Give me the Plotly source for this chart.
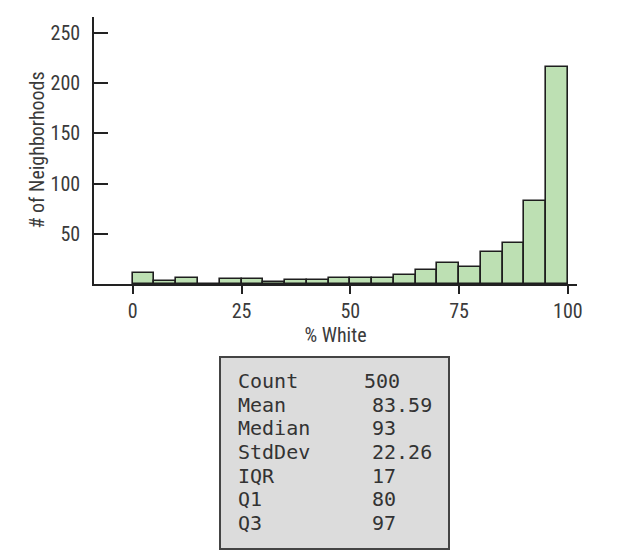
import plotly.graph_objects as go

# ---- data ----
bin_left = [0, 5, 10, 15, 20, 25, 30, 35, 40, 45, 50, 55, 60, 65, 70, 75, 80, 85, 90, 95]
counts = [11, 3, 6, 0, 5, 5, 2, 4, 4, 6, 6, 6, 9, 14, 21, 17, 32, 41, 83, 216]
bin_width = 5
x_ticks = [0, 25, 50, 75, 100]
y_ticks = [50, 100, 150, 200, 250]
stat_labels = ["Count", "Mean", "Median", "StdDev", "IQR", "Q1", "Q3"]
stat_values = ["500", "83.59", "93", "22.26", "17", "80", "97"]

W, H = 627, 555
L, R, T, B = 94, 50, 17, 271
pw, ph = W - L - R, H - T - B

def px_x(p):
    return (p - L) / pw

def px_y(p):
    return (H - B - p) / ph

narrow = "Liberation Sans Narrow, Arial Narrow, Roboto Condensed, Liberation Sans, sans-serif"
mono = "DejaVu Sans Mono, monospace"
txt = "#3a3a3a"

fig = go.Figure()
fig.add_trace(go.Bar(
    x=[b + bin_width / 2 for b in bin_left],
    y=counts,
    width=[bin_width] * len(bin_left),
    marker=dict(color="#bde0b3", line=dict(color="#1e1e1e", width=1.6)),
    hoverinfo="x+y",
))

fig.update_layout(
    width=W, height=H,
    margin=dict(l=L, r=R, t=T, b=B),
    plot_bgcolor="white", paper_bgcolor="white",
    showlegend=False,
    bargap=0,
    font=dict(family=narrow, color=txt, size=20),
    xaxis=dict(
        range=[-8.9, 102.1], tickvals=x_ticks, ticktext=[str(v) for v in x_ticks],
        showgrid=False, zeroline=False, showline=True, linecolor="#222222", linewidth=1.6,
        ticks="outside", ticklen=8, tickwidth=1.6, tickcolor="#222222",
        tickfont=dict(family=narrow, size=20, color=txt),
        title=dict(text="% White", font=dict(family=narrow, size=20, color=txt), standoff=2),
    ),
    yaxis=dict(
        range=[0, 266], tickvals=y_ticks, ticktext=[str(v) for v in y_ticks],
        showgrid=False, zeroline=False, showline=True, linecolor="#222222", linewidth=1.6,
        ticks="inside", ticklen=14, tickwidth=1.6, tickcolor="#222222",
        ticklabelstandoff=8,
        tickfont=dict(family=narrow, size=20, color=txt),
    ),
)

# y-axis title placed explicitly
fig.add_annotation(xref="paper", yref="paper", x=px_x(36), y=0.5, textangle=-90,
                   xanchor="center", yanchor="middle", showarrow=False,
                   text="# of Neighborhoods", font=dict(family=narrow, size=20, color=txt))

# stats box
fig.add_shape(type="rect", xref="paper", yref="paper",
              x0=px_x(220), x1=px_x(449), y0=px_y(549), y1=px_y(357),
              fillcolor="#dcdcdc", line=dict(color="#444444", width=2), layer="above")

row0, step = 381, 23.7
for i, (lab, val) in enumerate(zip(stat_labels, stat_values)):
    yc = px_y(row0 + i * step)
    fig.add_annotation(xref="paper", yref="paper", x=px_x(236), y=yc,
                       xanchor="left", yanchor="middle", showarrow=False, text=lab,
                       font=dict(family=mono, size=20, color="#333333"))
    vx = 362 if i == 0 else 370
    fig.add_annotation(xref="paper", yref="paper", x=px_x(vx), y=yc,
                       xanchor="left", yanchor="middle", showarrow=False, text=val,
                       font=dict(family=mono, size=20, color="#333333"))

fig.write_html("out.html")
